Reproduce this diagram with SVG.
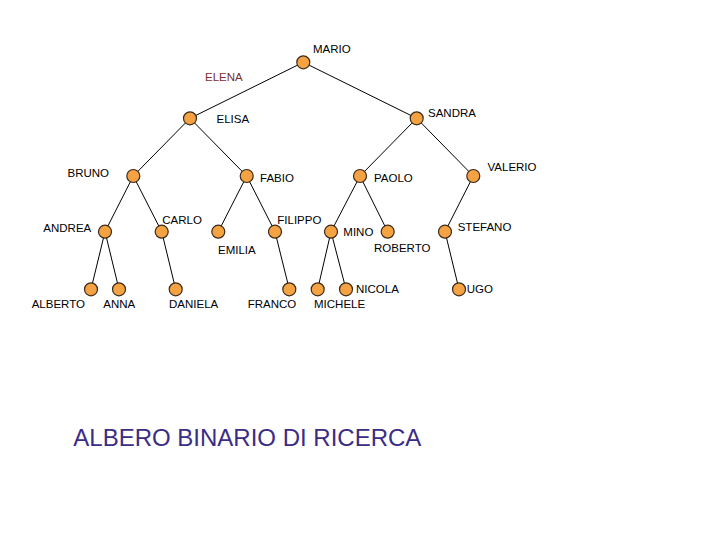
<svg xmlns="http://www.w3.org/2000/svg" width="720" height="540" viewBox="0 0 720 540">
<style>
.e{stroke:#000;stroke-width:1;fill:none}
.n{fill:#F5A243;stroke:#3a2a1a;stroke-width:1.2}
.t{font-family:"Liberation Sans",Arial,sans-serif;font-size:11.5px;fill:#000}
.red{fill:#7A2E2E}
.title{font-family:"Liberation Sans",Arial,sans-serif;font-size:24px;fill:#3B2C86}
</style>
<rect width="720" height="540" fill="#fff"/>
<g id="connectors">
<line class="e" x1="303.3" y1="62.3" x2="190" y2="118.3"/>
<line class="e" x1="303.3" y1="62.3" x2="416.7" y2="118.3"/>
<line class="e" x1="190" y1="118.3" x2="133.3" y2="176"/>
<line class="e" x1="190" y1="118.3" x2="246.7" y2="176"/>
<line class="e" x1="416.7" y1="118.3" x2="360" y2="176"/>
<line class="e" x1="416.7" y1="118.3" x2="473.3" y2="176"/>
<line class="e" x1="133.3" y1="176" x2="105" y2="231.7"/>
<line class="e" x1="133.3" y1="176" x2="161.7" y2="231.7"/>
<line class="e" x1="246.7" y1="176" x2="218.3" y2="231.7"/>
<line class="e" x1="246.7" y1="176" x2="275" y2="231.7"/>
<line class="e" x1="360" y1="176" x2="331" y2="231.7"/>
<line class="e" x1="360" y1="176" x2="387.7" y2="231.7"/>
<line class="e" x1="473.3" y1="176" x2="445" y2="231.7"/>
<line class="e" x1="105" y1="231.7" x2="91" y2="289.3"/>
<line class="e" x1="105" y1="231.7" x2="119" y2="289.3"/>
<line class="e" x1="161.7" y1="231.7" x2="175.7" y2="289.3"/>
<line class="e" x1="275" y1="231.7" x2="289.3" y2="289.3"/>
<line class="e" x1="331" y1="231.7" x2="317.7" y2="289.3"/>
<line class="e" x1="331" y1="231.7" x2="346" y2="289.3"/>
<line class="e" x1="445" y1="231.7" x2="459" y2="289.3"/>
</g>
<g id="MARIO"><circle class="n" cx="303.3" cy="62.3" r="6.5"/><text class="t" x="313" y="52.5">MARIO</text></g>
<g id="ELENA"><text class="t red" x="205" y="80.5">ELENA</text></g>
<g id="ELISA"><circle class="n" cx="190" cy="118.3" r="6.5"/><text class="t" x="216.5" y="122.5">ELISA</text></g>
<g id="SANDRA"><circle class="n" cx="416.7" cy="118.3" r="6.5"/><text class="t" x="428" y="117.3">SANDRA</text></g>
<g id="BRUNO"><circle class="n" cx="133.3" cy="176" r="6.5"/><text class="t" x="67.5" y="176.7">BRUNO</text></g>
<g id="FABIO"><circle class="n" cx="246.7" cy="176" r="6.5"/><text class="t" x="260" y="182.3">FABIO</text></g>
<g id="PAOLO"><circle class="n" cx="360" cy="176" r="6.5"/><text class="t" x="374" y="182.3">PAOLO</text></g>
<g id="VALERIO"><circle class="n" cx="473.3" cy="176" r="6.5"/><text class="t" x="487.5" y="170.7">VALERIO</text></g>
<g id="ANDREA"><circle class="n" cx="105" cy="231.7" r="6.5"/><text class="t" x="43.3" y="231.7">ANDREA</text></g>
<g id="CARLO"><circle class="n" cx="161.7" cy="231.7" r="6.5"/><text class="t" x="162.3" y="224">CARLO</text></g>
<g id="EMILIA"><circle class="n" cx="218.3" cy="231.7" r="6.5"/><text class="t" x="218" y="254">EMILIA</text></g>
<g id="FILIPPO"><circle class="n" cx="275" cy="231.7" r="6.5"/><text class="t" x="277.3" y="224">FILIPPO</text></g>
<g id="MINO"><circle class="n" cx="331" cy="231.7" r="6.5"/><text class="t" x="343.3" y="236">MINO</text></g>
<g id="ROBERTO"><circle class="n" cx="387.7" cy="231.7" r="6.5"/><text class="t" x="374" y="251.7">ROBERTO</text></g>
<g id="STEFANO"><circle class="n" cx="445" cy="231.7" r="6.5"/><text class="t" x="457.7" y="230.7">STEFANO</text></g>
<g id="ALBERTO"><circle class="n" cx="91" cy="289.3" r="6.5"/><text class="t" x="31.7" y="308.3">ALBERTO</text></g>
<g id="ANNA"><circle class="n" cx="119" cy="289.3" r="6.5"/><text class="t" x="103.3" y="308.3">ANNA</text></g>
<g id="DANIELA"><circle class="n" cx="175.7" cy="289.3" r="6.5"/><text class="t" x="169" y="308.3">DANIELA</text></g>
<g id="FRANCO"><circle class="n" cx="289.3" cy="289.3" r="6.5"/><text class="t" x="247.7" y="308.3">FRANCO</text></g>
<g id="MICHELE"><circle class="n" cx="317.7" cy="289.3" r="6.5"/><text class="t" x="314" y="308.3">MICHELE</text></g>
<g id="NICOLA"><circle class="n" cx="346" cy="289.3" r="6.5"/><text class="t" x="356" y="293.3">NICOLA</text></g>
<g id="UGO"><circle class="n" cx="459" cy="289.3" r="6.5"/><text class="t" x="466.7" y="293.3">UGO</text></g>
<g id="title"><text class="title" x="73.3" y="446">ALBERO BINARIO DI RICERCA</text></g>
</svg>
